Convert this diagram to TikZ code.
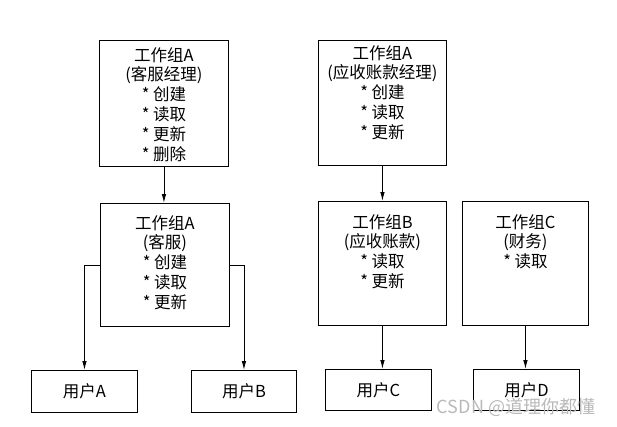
\documentclass[tikz,border=0pt]{standalone}
\usepackage{fontspec}
\newfontfamily\cjk{Noto Sans CJK SC}
\usetikzlibrary{arrows.meta,positioning}

\begin{document}
\begin{tikzpicture}[
  x=1pt,y=-1pt,
  grp/.style={draw,line width=0.9pt,anchor=north west,inner sep=0pt},
  txt/.style={align=center,font=\cjk\fontsize{16.5}{19.8}\selectfont,inner sep=0pt,anchor=north},
  usr/.style={draw,line width=0.9pt,font=\cjk\fontsize{16.5}{20}\selectfont,anchor=north west,inner sep=0pt,minimum width=106pt,minimum height=42pt},
  ar/.style={line width=0.9pt,-{Latex[length=9pt,width=4.5pt]}}
]
\useasboundingbox (0,0) rectangle (617,426);
\node[grp,minimum width=129pt,minimum height=126pt] (mgr) at (99,40) {};
\node[grp,minimum width=128pt,minimum height=125pt] (armgr) at (318,40) {};
\node[grp,minimum width=129pt,minimum height=123pt] (svc) at (100,203) {};
\node[grp,minimum width=128pt,minimum height=124pt] (ar) at (318,201) {};
\node[grp,minimum width=126pt,minimum height=124pt] (fin) at (462,201) {};
\node[txt,below=7pt of mgr.north] (mgr-t) {工作组A\\(客服经理)\\* 创建\\* 读取\\* 更新\\* 删除};
\node[txt,below=5pt of armgr.north] (armgr-t) {工作组A\\(应收账款经理)\\* 创建\\* 读取\\* 更新};
\node[txt,below=12pt of svc.north] (svc-t) {工作组A\\(客服)\\* 创建\\* 读取\\* 更新};
\node[txt,below=13pt of ar.north] (ar-t) {工作组B\\(应收账款)\\* 读取\\* 更新};
\node[txt,below=13pt of fin.north] (fin-t) {工作组C\\(财务)\\* 读取};
\node[usr] (userA) at (31,370) {用户A};
\node[usr,minimum width=105pt] (userB) at (191,370) {用户B};
\node[usr,minimum height=41pt] (userC) at (325,369) {用户C};
\node[usr,minimum height=41pt] (userD) at (473,369) {用户D};
\node[font=\cjk\fontsize{18}{20}\selectfont,text=gray!55] (wm) at (516,407) {CSDN @道理你都懂};
\draw[ar] (mgr.south)--(mgr.south |- svc.north);
\draw[ar] (armgr.south)--(ar.north);
\draw[ar] (svc.west)-|(userA.north);
\draw[ar] (svc.east)-|(userB.north);
\draw[ar] (ar.south)--(ar.south |- userC.north);
\draw[ar] (fin.south)--(fin.south |- userD.north);
\end{tikzpicture}
\end{document}
